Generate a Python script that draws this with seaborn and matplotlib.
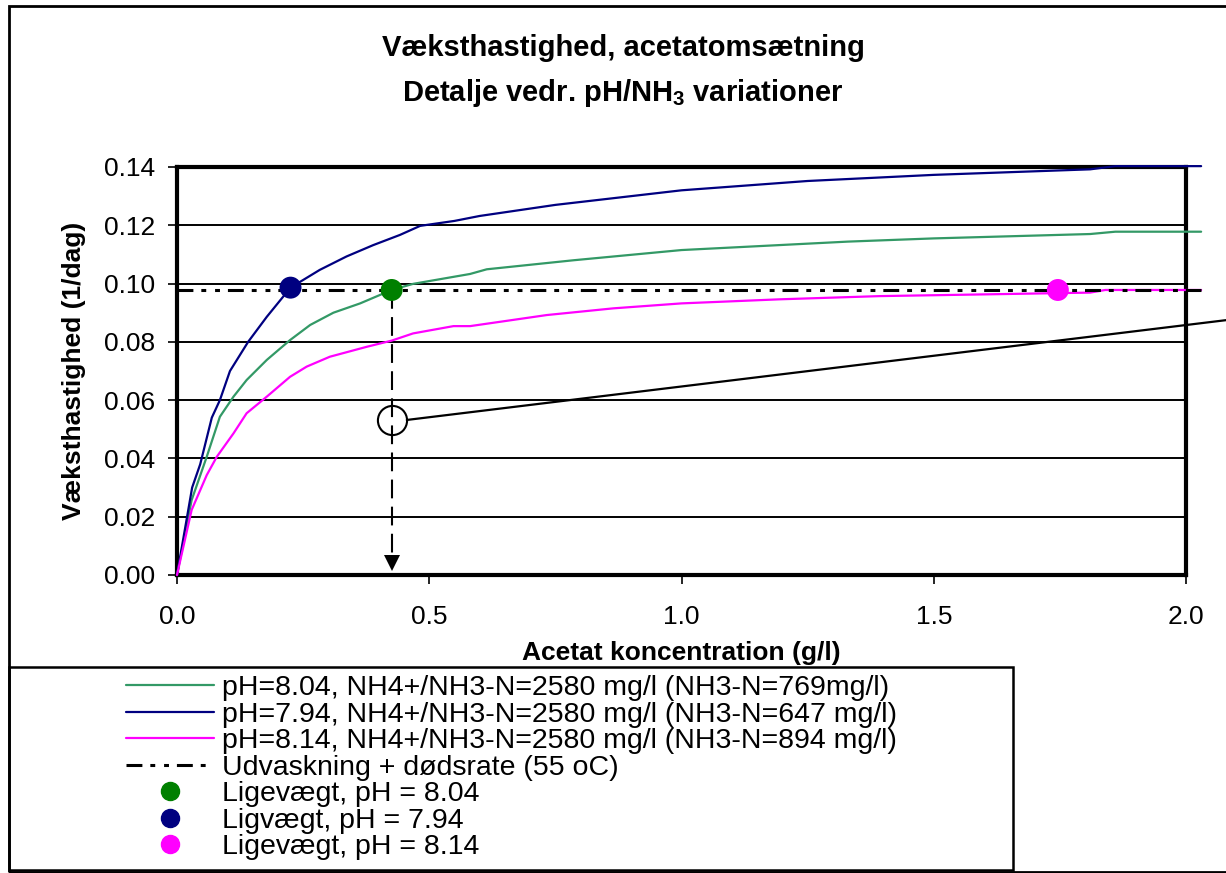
import matplotlib
matplotlib.use("Agg")
import matplotlib.pyplot as plt
import seaborn as sns
import pandas as pd
from matplotlib.patches import Rectangle
from matplotlib.ticker import FormatStrFormatter

sns.set_theme(style="white")
plt.rcParams["font.family"] = ["Liberation Sans", "DejaVu Sans"]
plt.rcParams["text.color"] = "black"
plt.rcParams["axes.labelcolor"] = "black"
plt.rcParams["xtick.color"] = "black"
plt.rcParams["ytick.color"] = "black"
plt.rcParams["mathtext.fontset"] = "custom"
plt.rcParams["mathtext.bf"] = "Liberation Sans:bold"
plt.rcParams["mathtext.rm"] = "Liberation Sans:bold"
plt.rcParams["mathtext.default"] = "bf"

# curve pH=8.04 (green)
x_804 = [0, 0.029, 0.059, 0.085, 0.112, 0.138, 0.178, 0.224, 0.264, 0.310, 0.363, 0.4255,
         0.468, 0.581, 0.614, 0.786, 1.0, 1.33, 1.5, 1.81, 1.86, 2.03]
y_804 = [0, 0.0257, 0.0406, 0.0543, 0.0612, 0.0669, 0.0738, 0.0806, 0.0858, 0.0900, 0.0932, 0.0978,
         0.0999, 0.1033, 0.1049, 0.1080, 0.1115, 0.1144, 0.1155, 0.1170, 0.1178, 0.1178]

# curve pH=7.94 (blue)
x_794 = [0, 0.030, 0.046, 0.069, 0.085, 0.105, 0.141, 0.178, 0.225, 0.283, 0.336, 0.389,
         0.442, 0.482, 0.55, 0.60, 0.75, 1.0, 1.25, 1.5, 1.81, 1.86, 2.03]
y_794 = [0, 0.0300, 0.0380, 0.0540, 0.0600, 0.0700, 0.0800, 0.0886, 0.0986, 0.1047, 0.1093, 0.1132,
         0.1167, 0.1198, 0.1215, 0.1232, 0.1270, 0.1320, 0.1352, 0.1373, 0.1392, 0.1403, 0.1403]

# curve pH=8.14 (magenta)
x_814 = [0, 0.029, 0.059, 0.079, 0.112, 0.138, 0.178, 0.224, 0.257, 0.303, 0.376, 0.425,
         0.468, 0.548, 0.581, 0.733, 0.865, 1.0, 1.195, 1.393, 1.5, 1.81, 1.84, 2.03]
y_814 = [0, 0.0223, 0.0343, 0.0406, 0.0486, 0.0555, 0.0612, 0.0680, 0.0715, 0.0749, 0.0783, 0.0804,
         0.0829, 0.0854, 0.0854, 0.0892, 0.0915, 0.0932, 0.0946, 0.0957, 0.0960, 0.0969, 0.0978, 0.0978]

# udvaskning + doedsrate
washout_x = [0, 2.03]
washout_y = [0.0978, 0.0978]

# ligevaegt points
eq_labels = ["Ligevægt, pH = 8.04", "Ligvægt, pH = 7.94", "Ligevægt, pH = 8.14"]
eq_x = [0.4255, 0.225, 1.746]
eq_y = [0.0978, 0.0986, 0.0978]
eq_colors = ["#008000", "#000080", "#FF00FF"]

curve_labels = ["pH=8.04, NH4+/NH3-N=2580 mg/l (NH3-N=769mg/l)",
                "pH=7.94, NH4+/NH3-N=2580 mg/l (NH3-N=647 mg/l)",
                "pH=8.14, NH4+/NH3-N=2580 mg/l (NH3-N=894 mg/l)"]
curve_colors = ["#339966", "#000080", "#FF00FF"]
washout_label = "Udvaskning + dødsrate (55 oC)"

# annotation: open circle and leader line
circle_x = [0.4255]
circle_y = [0.0532]
leader_x = [0.4555, 2.3]
leader_y = [0.0532, 0.0921]

x_ticks = [0.0, 0.5, 1.0, 1.5, 2.0]
y_ticks = [0.00, 0.02, 0.04, 0.06, 0.08, 0.10, 0.12, 0.14]

W, H = 1226, 873
fig = plt.figure(figsize=(W / 100, H / 100), dpi=100)
ax = fig.add_axes([177 / W, 1 - 575 / H, 1009 / W, 408 / H])

handles = []
for xs, ys, lab, col in zip([x_804, x_794, x_814], [y_804, y_794, y_814], curve_labels, curve_colors):
    df = pd.DataFrame({"x": xs, "y": ys})
    sns.lineplot(data=df, x="x", y="y", ax=ax, color=col, lw=1.6, sort=False,
                 estimator=None, zorder=3)
    ln = ax.lines[-1]
    ln.set_clip_on(False)
    handles.append(ln)

wl, = ax.plot(washout_x, washout_y, color="black", lw=2.2, zorder=4,
              dashes=(5.2, 2.6, 1.6, 2.9, 1.6, 2.6), clip_on=False)
handles.append(wl)

# dashed arrow from green equilibrium point to the x-axis
ax.plot([eq_x[0], eq_x[0]], [eq_y[0], 0.004], color="black", lw=1.5,
        dashes=(9, 4), zorder=2)
ax.plot([eq_x[0]], [0.004], marker="v", color="black", ms=11, zorder=2,
        markeredgewidth=0)

# open circle with leader line
ax.plot(circle_x, circle_y, marker="o", ms=21, mfc="none", mec="black",
        mew=1.5, ls="none", zorder=5)
ax.plot(leader_x, leader_y, color="black", lw=1.6, clip_on=False, zorder=5)

for ex, ey, col in zip(eq_x, eq_y, eq_colors):
    pts = pd.DataFrame({"x": [ex], "y": [ey]})
    sns.scatterplot(data=pts, x="x", y="y", ax=ax, color=col, s=250,
                    edgecolor="none", zorder=6)
    h, = ax.plot([], [], marker="o", ms=13, color=col, ls="none")
    handles.append(h)

ax.set_xlim(0, 2.0)
ax.set_ylim(0, 0.14)
ax.set_xticks(x_ticks)
ax.set_yticks(y_ticks)
ax.xaxis.set_major_formatter(FormatStrFormatter("%.1f"))
ax.yaxis.set_major_formatter(FormatStrFormatter("%.2f"))
ax.yaxis.grid(True, color="black", lw=1.4)
ax.xaxis.grid(False)
ax.set_axisbelow(True)
for sp in ax.spines.values():
    sp.set_color("black")
    sp.set_linewidth(3)
ax.tick_params(axis="both", direction="out", length=6.5, width=1.2, color="black",
               labelsize=19, labelcolor="black")
ax.tick_params(axis="y", pad=9, left=True)
ax.tick_params(axis="x", pad=15, bottom=True)

ax.set_xlabel("Acetat koncentration (g/l)", fontsize=19, fontweight="bold", color="black")
ax.set_ylabel("Væksthastighed (1/dag)", fontsize=19, fontweight="bold", color="black")
ax.xaxis.set_label_coords(0.5, -0.162)
ax.yaxis.set_label_coords(-0.09, 0.5)

fig.text(623 / W, 1 - 48 / H, "Væksthastighed, acetatomsætning", ha="center", va="center",
         fontsize=21, fontweight="bold")
fig.text(623 / W, 1 - 93 / H, r"Detalje vedr. pH/NH$_3$ variationer", ha="center", va="center",
         fontsize=21, fontweight="bold")

# outer chart border and legend box
fig.add_artist(Rectangle((9 / W, 1 - 872 / H), 1.2, (872 - 6) / H, transform=fig.transFigure,
                         fill=False, ec="black", lw=2, clip_on=False))
fig.add_artist(Rectangle((9 / W, 1 - 870 / H), 1004 / W, 203 / H, transform=fig.transFigure,
                         fill=False, ec="black", lw=1.8))

labels = curve_labels + [washout_label] + eq_labels
fig.legend(handles, labels, loc="upper left", bbox_to_anchor=(126 / W, 1 - 675 / H),
           frameon=False, fontsize=20.5, handlelength=3.1, handletextpad=0.26,
           borderpad=0, borderaxespad=0, labelspacing=0.02)

fig.savefig("out.png", dpi=100)
